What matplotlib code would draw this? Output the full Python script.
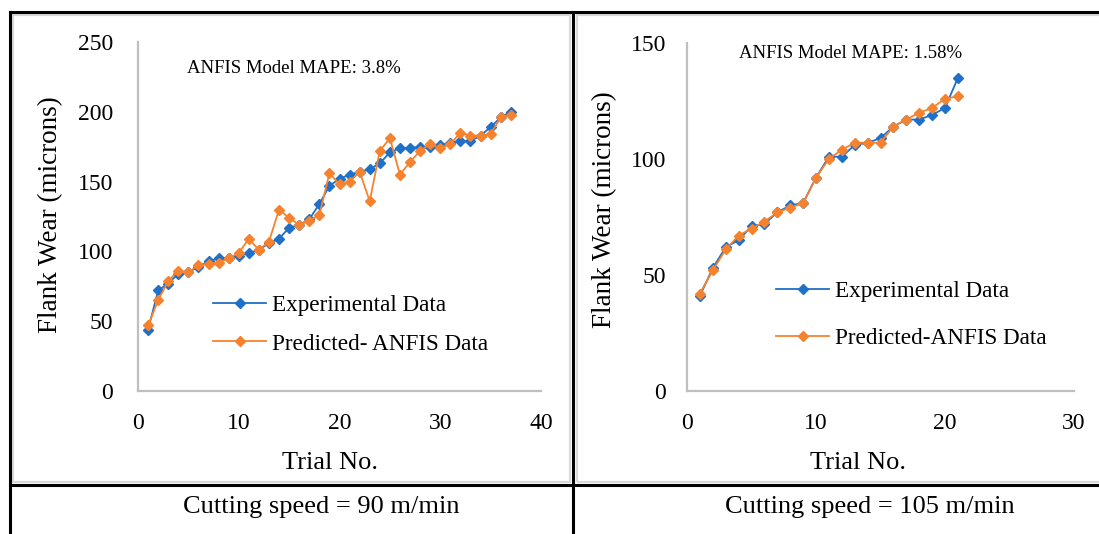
import matplotlib.pyplot as plt
from matplotlib.lines import Line2D
from matplotlib.patches import Rectangle

plt.rcParams['font.family'] = ['Liberation Serif', 'DejaVu Serif']

# speed 90 m/min
trial_90 = list(range(1, 38))
exp_90 = [44, 72, 77, 84, 85, 89, 93, 95, 95, 97, 99, 101, 106, 109, 117, 119, 123, 134, 147,
          152, 155, 157, 159, 163, 171, 174, 174, 175, 175, 176, 178, 179, 179, 183, 189, 196, 200]
pred_90 = [47, 65, 79, 86, 85, 90, 91, 92, 95, 99, 109, 101, 107, 130, 124, 119, 122, 126, 156,
           148, 150, 157, 136, 172, 181, 155, 164, 172, 177, 174, 177, 185, 183, 183, 184, 196, 198]

# speed 105 m/min
trial_105 = list(range(1, 22))
exp_105 = [41, 53, 62, 65, 71, 72, 77, 80, 81, 92, 101, 101, 106, 107, 109, 114, 117, 117, 119, 122, 135]
pred_105 = [42, 52, 61, 67, 70, 73, 77, 79, 81, 92, 100, 104, 107, 107, 107, 114, 117, 120, 122, 126, 127]

blue = '#1F70C8'
orange = '#F7822E'
gray = '#BFBFBF'

W, H = 1099, 534
fig = plt.figure(figsize=(W / 100, H / 100), dpi=100)


def fx(x):
    return x / W


def fy(y):
    return 1 - y / H


# table lines and chart frames
for (x0, y0, x1, y1) in [(10, 12, 1099, 12), (10, 12, 10, 534), (10, 485, 1099, 485), (573, 12, 573, 534)]:
    fig.add_artist(Line2D([fx(x0), fx(x1)], [fy(y0), fy(y1)], color='black', lw=2.2))
for (x0, y0, x1, y1) in [(13, 15, 570, 482), (577, 15, 1102, 482)]:
    fig.add_artist(Rectangle((fx(x0), fy(y1)), fx(x1 - x0), (y1 - y0) / H, fill=False,
                             edgecolor='#D9D9D9', lw=1.6))


def make_chart(rect, x, e, p, xmax, ymax, mape, mape_pos, leg_pos, leg_space, ylab_pos, xlab_pos, ypad):
    ax = fig.add_axes(rect)
    ax.plot(x, e, color=blue, lw=1.3, marker='D', ms=5, label='Experimental Data')
    ax.plot(x, p, color=orange, lw=1.3, marker='D', ms=5, label=mape[1])
    ax.set_xlim(0, xmax)
    ax.set_ylim(0, ymax)
    ax.set_xticks(range(0, xmax + 1, 10))
    ax.set_yticks(range(0, ymax + 1, 50))
    for s in ['top', 'right']:
        ax.spines[s].set_visible(False)
    for s in ['left', 'bottom']:
        ax.spines[s].set_color(gray)
        ax.spines[s].set_linewidth(1.6)
    ax.tick_params(axis='y', length=0, pad=ypad, labelsize=17)
    ax.tick_params(axis='x', length=0, pad=16, labelsize=17)
    ax.set_ylabel('Flank Wear (microns)', fontsize=19.5, va='center')
    ax.yaxis.set_label_coords(*ylab_pos)
    ax.set_xlabel('Trial No.', fontsize=19, va='center')
    ax.xaxis.set_label_coords(*xlab_pos)
    ax.text(mape_pos[0], mape_pos[1], mape[0], transform=ax.transAxes, fontsize=13.5, va='center')
    ax.legend(loc='upper left', bbox_to_anchor=leg_pos, frameon=False, fontsize=16.7,
              handlelength=2.3, handletextpad=0.25, labelspacing=leg_space,
              borderpad=0, borderaxespad=0)
    return ax


make_chart([fx(138), fy(391), fx(541 - 138), 349 / H], trial_90, exp_90, pred_90, 40, 250,
           ('ANFIS Model MAPE: 3.8%', 'Predicted- ANFIS Data'), (0.1216, 0.9255),
           (0.186, 0.276), 0.75, (-0.218, 0.504), (0.476, -0.206), 18)
make_chart([fx(687), fy(391), fx(1074 - 687), 348 / H], trial_105, exp_105, pred_105, 30, 150,
           ('ANFIS Model MAPE: 1.58%', 'Predicted-ANFIS Data'), (0.1344, 0.971),
           (0.230, 0.316), 1.1, (-0.214, 0.52), (0.442, -0.207), 15)

fig.text(fx(321), fy(507), 'Cutting speed = 90 m/min', fontsize=19, ha='center', va='center')
fig.text(fx(870), fy(507), 'Cutting speed = 105 m/min', fontsize=19, ha='center', va='center')

fig.savefig('out.png', dpi=100)
